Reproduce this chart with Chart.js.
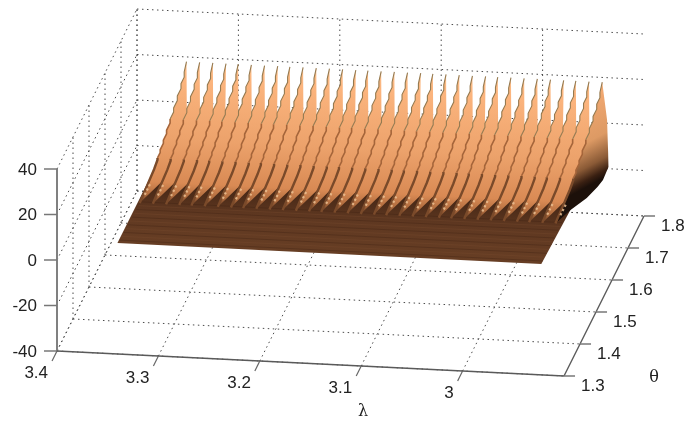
<!DOCTYPE html>
<html lang="en">
<head>
    <meta charset="UTF-8">
    <title>Surface over lambda and theta</title>
    <script src="https://cdn.jsdelivr.net/npm/chart.js"></script>
    <style>
        html, body { margin: 0; padding: 0; background: #fff; }
        canvas { display: block; }
    </style>
</head>
<body>
    <canvas id="myChart" width="685" height="421"></canvas>
    <script>
        // axis ticks
        const lambdaTicks = [3.4, 3.3, 3.2, 3.1, 3];
        const lambdaLabels = ['3.4', '3.3', '3.2', '3.1', '3'];
        const thetaTicks = [1.3, 1.4, 1.5, 1.6, 1.7, 1.8];
        const thetaLabels = ['1.3', '1.4', '1.5', '1.6', '1.7', '1.8'];
        const zTicks = [-40, -20, 0, 20, 40];
        const zLabels = ['-40', '-20', '0', '20', '40'];

        // one ridge per lambda value
        const ridgeLambda = [3.350, 3.337, 3.324, 3.311, 3.299, 3.286, 3.273, 3.260, 3.248, 3.235, 3.222,
            3.209, 3.196, 3.183, 3.171, 3.158, 3.145, 3.132, 3.119, 3.107, 3.094, 3.081,
            3.068, 3.055, 3.043, 3.030, 3.017, 3.004, 2.991, 2.978, 2.966, 2.953, 2.940];

        // shape of a ridge along theta (stepped, the surface grid is coarse)
        const ridgeTheta = [1.50, 1.53, 1.56, 1.59, 1.611, 1.611, 1.628, 1.628, 1.648, 1.648, 1.668, 1.668,
            1.69, 1.69, 1.712, 1.712, 1.735, 1.735, 1.758, 1.758, 1.778, 1.778, 1.7925];
        const ridgeZ = [-2, -1.2, -0.5, 0.2, 1.3, 2.2, 2.2, 3.4, 3.4, 4.8, 4.8, 6.4,
            6.4, 8.2, 8.2, 10, 10, 12, 12, 14.2, 14.2, 16.5, 19];
        // where the back of a peak meets the next ridge
        const valleyIndex = 15;
        // where the foot of a ridge starts on the flat part
        const footIndex = 2;

        // right hand rim of the last ridge, at z = 0
        const rimLambda = [2.938, 2.921, 2.914, 2.913, 2.915, 2.920, 2.930];
        const rimTheta = [1.81, 1.709, 1.6665, 1.626, 1.604, 1.569, 1.529];

        // flat part of the surface
        const flatLambda = [3.350, 2.932, 2.930, 2.932, 3.330, 3.350];
        const flatTheta = [1.361, 1.361, 1.529, 1.600, 1.600, 1.561];
        const flatStripes = [1.37, 1.382, 1.394, 1.406, 1.418, 1.43, 1.442, 1.454, 1.466, 1.478, 1.49];

        // light marks at the foot of each ridge
        const spotTheta = [1.512, 1.552];

        // view of the 3D box, pixels per data unit
        const view = { x0: 57, y0: 351, lx: 1014, ly: 50, tx: 160, ty: 320, zy: 2.275 };
        const project = (l, t, z) => ({
            x: view.x0 + (3.4 - l) * view.lx + (t - 1.3) * view.tx,
            y: view.y0 + (3.4 - l) * view.ly - (t - 1.3) * view.ty - (z + 40) * view.zy
        });

        const datasets = [];
        function addLine(points, color, width, dash) {
            datasets.push({
                data: points, showLine: true, borderColor: color, borderWidth: width,
                borderDash: dash || [], pointRadius: 0, fill: false, tension: 0
            });
        }

        // dotted box grid
        const dots = [1.5, 3.5];
        const gridColor = '#4a4a4a';
        const lastL = 2.9, firstL = 3.4, firstT = 1.3, lastT = 1.8, lowZ = -40, topZ = 40;
        zTicks.forEach(z => {
            addLine([project(firstL, lastT, z), project(lastL, lastT, z)], gridColor, 1, dots);
            addLine([project(firstL, firstT, z), project(firstL, lastT, z)], gridColor, 1, dots);
        });
        lambdaTicks.forEach(l => {
            addLine([project(l, lastT, lowZ), project(l, lastT, topZ)], gridColor, 1, dots);
            addLine([project(l, firstT, lowZ), project(l, lastT, lowZ)], gridColor, 1, dots);
        });
        thetaTicks.forEach(t => {
            addLine([project(firstL, t, lowZ), project(firstL, t, topZ)], gridColor, 1, dots);
            addLine([project(firstL, t, lowZ), project(lastL, t, lowZ)], gridColor, 1, dots);
        });

        // axes and tick marks
        addLine([project(firstL, firstT, lowZ), project(firstL, firstT, topZ)], '#808080', 2);
        addLine([project(firstL, firstT, lowZ), project(lastL, firstT, lowZ)], '#5a5a5a', 1.4);
        addLine([project(lastL, firstT, lowZ), project(lastL, lastT, lowZ)], '#5a5a5a', 1.4);
        zTicks.forEach(z => addLine([project(firstL, firstT, z), project(3.4125, 1.298, z)], '#777', 1.4));
        lambdaTicks.forEach(l => addLine([project(l, firstT, lowZ), project(l, 1.269, lowZ)], '#666', 1.2));
        thetaTicks.forEach(t => addLine([project(lastL, t, lowZ), project(2.8894, t + 0.0017, lowZ)], '#777', 1.4));

        function gradient(ctx, from, to, stops) {
            const { chart } = ctx;
            if (!chart.chartArea) return stops[0][1];
            const { x, y } = chart.scales;
            const g = chart.ctx.createLinearGradient(x.getPixelForValue(from.x), y.getPixelForValue(from.y),
                x.getPixelForValue(to.x), y.getPixelForValue(to.y));
            stops.forEach(s => g.addColorStop(s[0], s[1]));
            return g;
        }
        const flatColors = [[0, '#673e24'], [0.55, '#5f3821'], [0.85, '#4c2b18'], [1, '#452716']];
        const ridgeColors = [[0, '#f8bd88'], [0.12, '#fcb57e'], [0.55, '#eca26b'], [0.85, '#d98a54'], [0.94, '#b06c3e'], [1, '#59331d']];
        const lastRidgeColors = [[0, '#f6ab74'], [0.55, '#dd9a64'], [0.8, '#8a5a36'], [0.93, '#3a2012'], [1, '#1c100a']];

        // flat part
        datasets.push({
            data: flatLambda.map((l, i) => project(l, flatTheta[i], 0)), showLine: true,
            borderWidth: 0, pointRadius: 0, fill: 'shape', tension: 0,
            backgroundColor: ctx => gradient(ctx, { x: 330, y: 254 }, { x: 333, y: 190 }, flatColors)
        });
        flatStripes.forEach((t, i) => addLine([project(3.35 - (t - 1.361) * 0.02, t, 0), project(2.932, t, 0)],
            i % 2 ? 'rgba(120,75,45,0.35)' : 'rgba(60,32,16,0.35)', 1));

        // ridges, left to right so that each one hides the back of the previous
        ridgeLambda.forEach((l, i) => {
            const side = ridgeTheta.map((t, j) => project(l, t, ridgeZ[j]));
            const tip = side[side.length - 1];
            let outline, background;
            if (i < ridgeLambda.length - 1) {
                const next = ridgeTheta.map((t, j) => project(ridgeLambda[i + 1], t, ridgeZ[j]));
                outline = side.concat(next.slice(footIndex, valleyIndex + 1).reverse());
                background = ctx => gradient(ctx, { x: tip.x, y: tip.y }, { x: tip.x, y: side[0].y }, ridgeColors);
            } else {
                outline = side.concat(rimLambda.map((rl, j) => project(rl, rimTheta[j], 0)));
                background = ctx => gradient(ctx, { x: 566, y: 100 }, { x: 607, y: 176 }, lastRidgeColors);
            }
            datasets.push({
                data: outline, showLine: true, borderWidth: 0, pointRadius: 0,
                fill: 'shape', backgroundColor: background, tension: 0
            });
            datasets.push({
                data: side, showLine: true, pointRadius: 0, fill: false, tension: 0,
                borderColor: '#85593a', borderWidth: 1.5, borderJoinStyle: 'miter',
                segment: {
                    borderColor: s => s.p0DataIndex < 5 ? '#7a4a2a' : s.p0DataIndex < 13 ? '#a5653a' : '#957a50',
                    borderWidth: s => s.p0DataIndex < 5 ? 2.4 : s.p0DataIndex < 13 ? 1.6 : 1.1
                }
            });
        });

        // light marks
        ridgeLambda.forEach(l => addLine(spotTheta.map(t => project(l - 0.003, t, 0)),
            'rgba(235,190,145,0.85)', 2.2, [2.2, 2.6]));

        const tickText = {
            id: 'tickText',
            afterDraw(chart) {
                const { ctx, scales } = chart;
                const at = p => ({ x: scales.x.getPixelForValue(p.x), y: scales.y.getPixelForValue(p.y) });
                ctx.save();
                ctx.fillStyle = '#222';
                ctx.textBaseline = 'middle';
                ctx.font = '17px "Liberation Sans"';
                ctx.textAlign = 'right';
                zTicks.forEach((z, i) => {
                    const p = at(project(3.4125, 1.298, z));
                    ctx.fillText(zLabels[i], p.x - 7, p.y + 1);
                });
                lambdaTicks.forEach((l, i) => {
                    const p = at(project(l, 1.269, lowZ));
                    ctx.fillText(lambdaLabels[i], p.x - 4, p.y + 12);
                });
                ctx.textAlign = 'left';
                thetaTicks.forEach((t, i) => {
                    const p = at(project(2.8894, t + 0.0017, lowZ));
                    ctx.fillText(thetaLabels[i], p.x + 6, p.y + 10);
                });
                ctx.textAlign = 'center';
                ctx.font = '16px "DejaVu Serif"';
                const thetaPos = at({ x: 654, y: 378 });
                ctx.fillText('θ', thetaPos.x, thetaPos.y);
                const lambdaPos = at({ x: 363, y: 412 });
                ctx.fillText('λ', lambdaPos.x, lambdaPos.y);
                ctx.restore();
            }
        };

        new Chart(document.getElementById('myChart').getContext('2d'), {
            type: 'scatter',
            // first dataset is painted last in Chart.js
            data: { datasets: datasets.slice().reverse() },
            options: {
                responsive: false,
                animation: false,
                layout: { padding: 0, autoPadding: false },
                scales: {
                    x: { type: 'linear', min: 0, max: 685, display: false },
                    y: { type: 'linear', min: 0, max: 421, reverse: true, display: false }
                },
                plugins: { legend: { display: false }, tooltip: { enabled: false } }
            },
            plugins: [tickText]
        });
    </script>
</body>
</html>
